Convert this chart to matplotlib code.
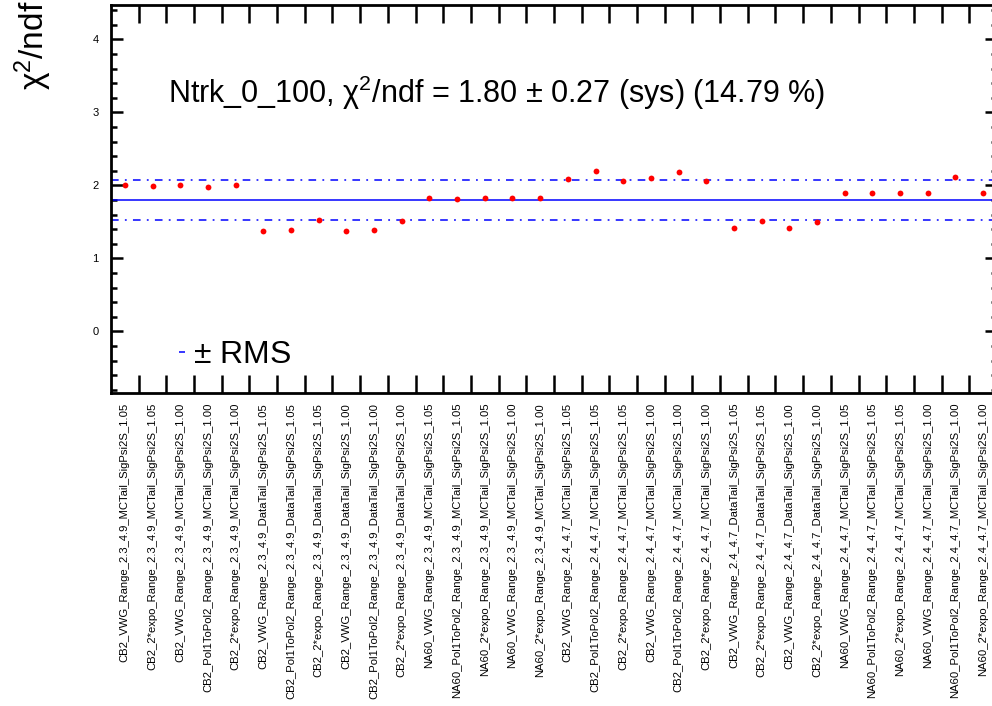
import matplotlib
matplotlib.use("Agg")
import matplotlib.pyplot as plt
from matplotlib.lines import Line2D
from matplotlib.ticker import MultipleLocator, FixedLocator

plt.rcParams['font.family'] = ['Liberation Sans', 'DejaVu Sans']
plt.rcParams['mathtext.fontset'] = 'custom'
plt.rcParams['mathtext.rm'] = 'Liberation Sans'
plt.rcParams['mathtext.it'] = 'Liberation Sans:italic'
plt.rcParams['lines.scale_dashes'] = False

# fit configurations (x axis labels)
labels = [
    "CB2_VWG_Range_2.3_4.9_MCTail_SigPsi2S_1.05",
    "CB2_2*expo_Range_2.3_4.9_MCTail_SigPsi2S_1.05",
    "CB2_VWG_Range_2.3_4.9_MCTail_SigPsi2S_1.00",
    "CB2_Pol1ToPol2_Range_2.3_4.9_MCTail_SigPsi2S_1.00",
    "CB2_2*expo_Range_2.3_4.9_MCTail_SigPsi2S_1.00",
    "CB2_VWG_Range_2.3_4.9_DataTail_SigPsi2S_1.05",
    "CB2_Pol1ToPol2_Range_2.3_4.9_DataTail_SigPsi2S_1.05",
    "CB2_2*expo_Range_2.3_4.9_DataTail_SigPsi2S_1.05",
    "CB2_VWG_Range_2.3_4.9_DataTail_SigPsi2S_1.00",
    "CB2_Pol1ToPol2_Range_2.3_4.9_DataTail_SigPsi2S_1.00",
    "CB2_2*expo_Range_2.3_4.9_DataTail_SigPsi2S_1.00",
    "NA60_VWG_Range_2.3_4.9_MCTail_SigPsi2S_1.05",
    "NA60_Pol1ToPol2_Range_2.3_4.9_MCTail_SigPsi2S_1.05",
    "NA60_2*expo_Range_2.3_4.9_MCTail_SigPsi2S_1.05",
    "NA60_VWG_Range_2.3_4.9_MCTail_SigPsi2S_1.00",
    "NA60_2*expo_Range_2.3_4.9_MCTail_SigPsi2S_1.00",
    "CB2_VWG_Range_2.4_4.7_MCTail_SigPsi2S_1.05",
    "CB2_Pol1ToPol2_Range_2.4_4.7_MCTail_SigPsi2S_1.05",
    "CB2_2*expo_Range_2.4_4.7_MCTail_SigPsi2S_1.05",
    "CB2_VWG_Range_2.4_4.7_MCTail_SigPsi2S_1.00",
    "CB2_Pol1ToPol2_Range_2.4_4.7_MCTail_SigPsi2S_1.00",
    "CB2_2*expo_Range_2.4_4.7_MCTail_SigPsi2S_1.00",
    "CB2_VWG_Range_2.4_4.7_DataTail_SigPsi2S_1.05",
    "CB2_2*expo_Range_2.4_4.7_DataTail_SigPsi2S_1.05",
    "CB2_VWG_Range_2.4_4.7_DataTail_SigPsi2S_1.00",
    "CB2_2*expo_Range_2.4_4.7_DataTail_SigPsi2S_1.00",
    "NA60_VWG_Range_2.4_4.7_MCTail_SigPsi2S_1.05",
    "NA60_Pol1ToPol2_Range_2.4_4.7_MCTail_SigPsi2S_1.05",
    "NA60_2*expo_Range_2.4_4.7_MCTail_SigPsi2S_1.05",
    "NA60_VWG_Range_2.4_4.7_MCTail_SigPsi2S_1.00",
    "NA60_Pol1ToPol2_Range_2.4_4.7_MCTail_SigPsi2S_1.00",
    "NA60_2*expo_Range_2.4_4.7_MCTail_SigPsi2S_1.00",
]

# chi2/ndf of each fit
chi2ndf = [2.00, 1.99, 2.00, 1.975, 2.00,
           1.375, 1.39, 1.53, 1.375, 1.39, 1.515,
           1.83, 1.81, 1.83, 1.83, 1.83,
           2.09, 2.195, 2.055, 2.10, 2.18, 2.055,
           1.41, 1.51, 1.41, 1.50,
           1.895, 1.89, 1.895, 1.90, 2.11, 1.895]

MEAN = 1.80
RMS = 0.27
name = "Ntrk_0_100"

xpos = list(range(1, len(labels) + 1))

fig = plt.figure(figsize=(9.92, 7.06), dpi=100)
ax = fig.add_axes([0.1119, 0.4433, 1.005 - 0.1119, 0.9929 - 0.4433])

ax.plot(xpos, chi2ndf, 'o', color='red', ms=4.2, mec='none', zorder=3)
ax.axhline(MEAN, color='blue', lw=1.1)
dashdot = (0, (5.5, 4.5, 1.3, 4.5))
ax.axhline(MEAN + RMS, color='blue', lw=1.1, ls=dashdot)
ax.axhline(MEAN - RMS, color='blue', lw=1.1, ls=dashdot)

ax.set_xlim(0.5, len(labels) + 0.5)
ax.set_ylim(-0.845, 4.47)

for s in ax.spines.values():
    s.set_linewidth(2.0)

# bin-edge ticks on x, labels at bin centres
ax.xaxis.set_major_locator(FixedLocator([i + 0.5 for i in xpos[:-1]]))
ax.xaxis.set_major_formatter(plt.NullFormatter())
ax.xaxis.set_minor_locator(FixedLocator(xpos))
ax.set_xticks(xpos, labels, minor=True, rotation=90, fontsize=8.1)
ax.tick_params(axis='x', which='major', direction='in', length=13, width=1.8,
               top=True, bottom=True)
ax.tick_params(axis='x', which='minor', length=0, pad=7)

ax.yaxis.set_major_locator(MultipleLocator(1))
ax.yaxis.set_minor_locator(MultipleLocator(0.2))
ax.tick_params(axis='y', which='major', direction='in', length=8.6, width=1.8,
               left=True, right=True, labelsize=8, pad=9)
ax.tick_params(axis='y', which='minor', direction='in', length=4.3, width=1.8,
               left=True, right=True)

fig.text(0.034, 0.999, 'χ$^{2}$/ndf', rotation=90, ha='center', va='top',
         fontsize=24)

ax.text(168 / 992, 1 - 103 / 706,
        name + ', χ$^{2}$/ndf = %.2f $\\pm$ %.2f (sys) (%.2f %%)'
        % (MEAN, RMS, 14.79),
        transform=fig.transFigure, fontsize=22, va='baseline', ha='left')

handle = Line2D([], [], color='blue', lw=1.1, ls=dashdot)
ax.legend([handle], ['$\\pm$ RMS'], loc='center left', frameon=False,
          bbox_to_anchor=(179 / 992, 1 - 355 / 706),
          bbox_transform=fig.transFigure, fontsize=23, handlelength=0.18,
          handletextpad=0.25, borderpad=0, borderaxespad=0)

fig.savefig("out.png", dpi=100)
